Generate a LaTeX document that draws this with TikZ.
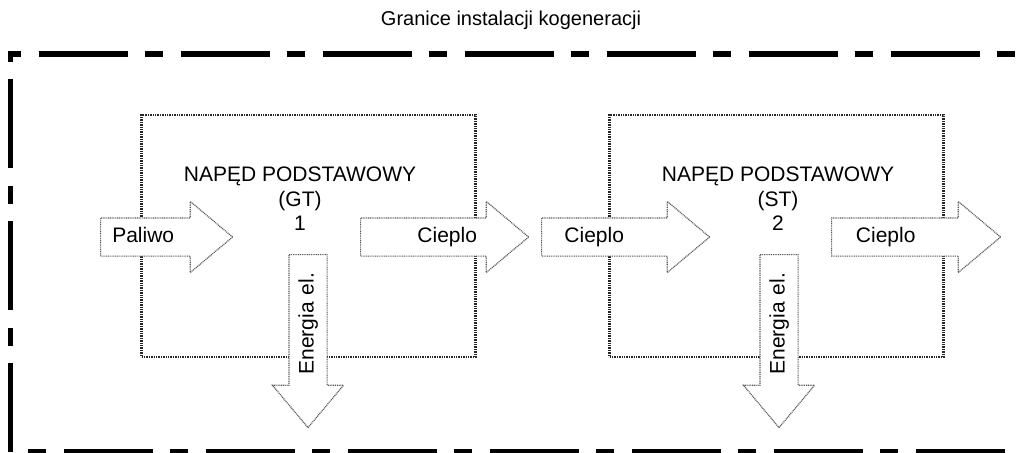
\documentclass[tikz,border=0pt]{standalone}
\usepackage{fontspec}
\setmainfont{Liberation Sans}
\usetikzlibrary{shapes,arrows,positioning,calc}

\begin{document}
\begin{tikzpicture}[x=0.5pt, y=-0.5pt,
        unit/.style={rectangle, draw=black!85, line width=1.2pt, dash pattern=on 0.7pt off 0.5pt, minimum width=167pt, minimum height=121pt},
        flow/.style={single arrow, draw=black!65, fill=white, line width=0.6pt, dash pattern=on 0.5pt off 0.4pt, single arrow head extend=8.25pt, single arrow tip angle=80, inner xsep=1pt, inner ysep=4pt, text height=8pt, text depth=2.5pt, align=center, anchor=tail, font=\fontsize{10.5}{12}\selectfont},
        border/.style={line width=2.6pt, dash pattern=on 44.5pt off 8.5pt on 9pt off 9pt}]

    \useasboundingbox (0,0) rectangle (1021,452);

    \node [font=\fontsize{10}{12}\selectfont] (title) at (511,20) {Granice instalacji kogeneracji};

    % plant boundary
    \draw [border] (10.5,452) -- (10.5,54) -- (1021,54);
    \draw [border, dash phase=53pt] (28,452) -- (1021,452);

    % the two drives
    \node [unit] (gt) at (308.5,236) {};
    \node [unit] (st) at (776.5,236) {};
    \node [align=center, font=\fontsize{10.5}{12.2}\selectfont] (gtname) at (300,199) {NAPĘD PODSTAWOWY\\(GT)\\1};
    \node [align=center, font=\fontsize{10.5}{12.2}\selectfont] (stname) at (778,199) {NAPĘD PODSTAWOWY\\(ST)\\2};

    % flows (text width = body length, hspace nudges the label)
    \node [flow, text width=43pt, minimum height=66pt] (fuel) at (100,237) {Paliwo\hspace*{12pt}\mbox{}};
    \node [flow, text width=61pt, minimum height=84pt] (heat1) at (360,237) {\hspace*{14pt}Cieplo};
    \node [flow, text width=61pt, minimum height=84pt] (heat2) at (541,237) {Cieplo\hspace*{20pt}\mbox{}};
    \node [flow, text width=61.5pt, minimum height=84.5pt] (heat3) at (831,237) {Cieplo\hspace*{19pt}\mbox{}};
    \node [flow, text width=63.5pt, minimum height=86.5pt, rotate=90, shape border rotate=180] (power1) at (308,254) {\hspace*{6pt}Energia el.};
    \node [flow, text width=63.5pt, minimum height=86.5pt, rotate=90, shape border rotate=180] (power2) at (779,254) {\hspace*{6pt}Energia el.};
\end{tikzpicture}
\end{document}
